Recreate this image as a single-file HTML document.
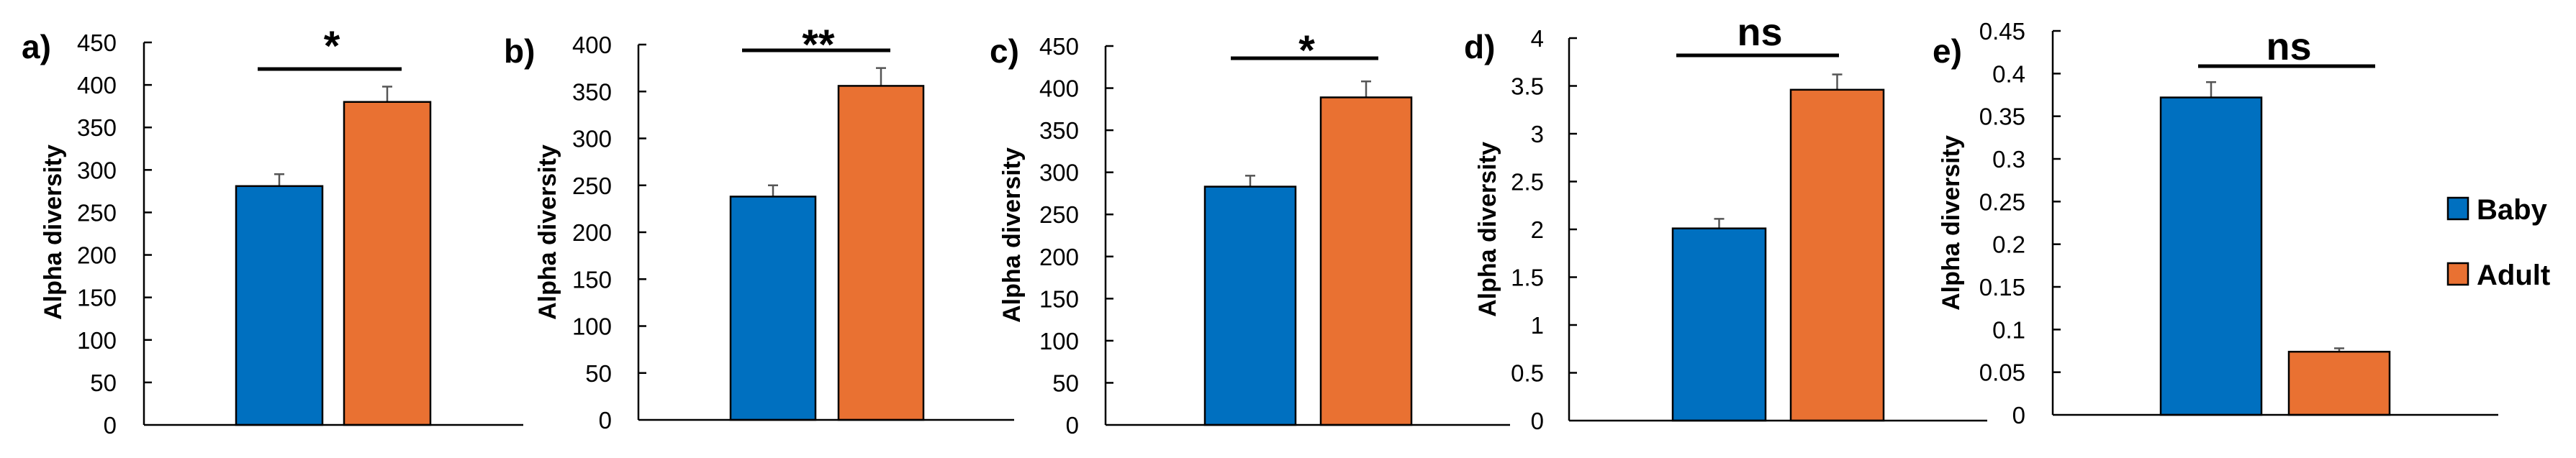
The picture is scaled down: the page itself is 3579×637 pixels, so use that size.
<!DOCTYPE html>
<html><head><meta charset="utf-8"><style>
html,body{margin:0;padding:0;background:#fff;}
svg{display:block;}
text{font-family:"Liberation Sans",sans-serif;fill:#000;}
</style></head>
<body>
<svg id="chart" width="3579" height="637" viewBox="0 0 3579 637" xmlns="http://www.w3.org/2000/svg"></svg>
<script>
// ---- data ----
const panelLetters = ["a)", "b)", "c)", "d)", "e)"];
const groups = ["Baby", "Adult"];
const babyValues = [281, 238, 283, 2.01, 0.372];
const adultValues = [380, 356, 389, 3.46, 0.074];
const babyErrors = [14, 12, 13, 0.1, 0.018];
const adultErrors = [18, 19, 19, 0.16, 0.004];
const yMaxValues = [450, 400, 450, 4, 0.45];
const yStepValues = [50, 50, 50, 0.5, 0.05];
const tickLabelsA = ["0","50","100","150","200","250","300","350","400","450"];
const tickLabelsB = ["0","50","100","150","200","250","300","350","400"];
const tickLabelsC = ["0","50","100","150","200","250","300","350","400","450"];
const tickLabelsD = ["0","0.5","1","1.5","2","2.5","3","3.5","4"];
const tickLabelsE = ["0","0.05","0.1","0.15","0.2","0.25","0.3","0.35","0.4","0.45"];
const tickLabels = [tickLabelsA, tickLabelsB, tickLabelsC, tickLabelsD, tickLabelsE];
const significance = ["*", "**", "*", "ns", "ns"];

// ---- layout (pixels) ----
const layout = [
  {ax:200, x1:727, top:59, zero:591, bw:120, b1:328, b2:478, sig:[358,558,96], sigY:54, lab:[30,65], tl:162, yt:[73,323]},
  {ax:887, x1:1409, top:62, zero:584, bw:118, b1:1015, b2:1165, sig:[1031,1237,70], sigY:52, lab:[700,71], tl:850, yt:[760,323]},
  {ax:1536, x1:2098, top:64, zero:591, bw:126, b1:1674, b2:1835, sig:[1710,1915,81], sigY:60, lab:[1375,71], tl:1499, yt:[1405,327]},
  {ax:2180, x1:2761, top:53, zero:585, bw:129, b1:2324, b2:2488, sig:[2329,2555,77], sigY:43, lab:[2034,65], tl:2145, yt:[2066,319]},
  {ax:2852, x1:3471, top:43, zero:577, bw:140, b1:3002, b2:3180, sig:[3054,3300,92], sigY:63, lab:[2685,71], tl:2814, yt:[2710,310]}
];
const colors = ["#0070c0", "#e97132"];
const NS = "http://www.w3.org/2000/svg";
const svg = document.getElementById("chart");
function mk(tag, attrs, parent){
  const e = document.createElementNS(NS, tag);
  for (const k in attrs) e.setAttribute(k, attrs[k]);
  (parent||svg).appendChild(e);
  return e;
}
layout.forEach((L, i) => {
  const g = mk("g", {});
  
  
  const yScale = v => L.zero - (v / yMaxValues[i]) * (L.zero - L.top);
  const ya = mk("line", {x1:L.ax, y1:L.top, x2:L.ax, y2:L.zero, stroke:"#000", "stroke-width":2.5}, g);
  
  
  tickLabels[i].forEach((t, k) => {
    const y = yScale(k * yStepValues[i]);
    if (k > 0) {
      const tk = mk("line", {x1:L.ax, y1:y, x2:L.ax + 11, y2:y, stroke:"#000", "stroke-width":2.5}, g);
      
      
    }
    const tx = mk("text", {x:L.tl, y:y + 12, "text-anchor":"end", "font-size":33}, g);
    tx.textContent = t;
    
    
  });
  const vals = [babyValues[i], adultValues[i]];
  const errs = [babyErrors[i], adultErrors[i]];
  const bxs = [L.b1, L.b2];
  vals.forEach((v, j) => {
    const cx = bxs[j] + L.bw / 2;
    const eb = mk("line", {x1:cx, y1:yScale(v), x2:cx, y2:yScale(v + errs[j]), stroke:"#555", "stroke-width":2.5}, g);
    
    
    const ec = mk("line", {x1:cx - 7, y1:yScale(v + errs[j]), x2:cx + 7, y2:yScale(v + errs[j]), stroke:"#555", "stroke-width":2.5}, g);
    
    
    const r = mk("rect", {x:bxs[j], y:yScale(v), width:L.bw, height:L.zero - yScale(v), fill:colors[j], stroke:"#000", "stroke-width":2.5}, g);
    
    
  });
  const xa = mk("line", {x1:L.ax, y1:L.zero, x2:L.x1, y2:L.zero, stroke:"#000", "stroke-width":2.5}, g);
  
  
  const sl = mk("line", {x1:L.sig[0], y1:L.sig[2], x2:L.sig[1], y2:L.sig[2], stroke:"#000", "stroke-width":5}, g);
  
  
  const isNs = significance[i] === "ns";
  const st = mk("text", {x:(L.sig[0] + L.sig[1]) / 2 + 3, y:L.sigY + (isNs ? 20 : 30), "text-anchor":"middle", "font-size":isNs ? 54 : 58, "font-weight":"bold", "font-family":isNs ? "Liberation Sans Narrow, Liberation Sans, sans-serif" : "Liberation Sans, sans-serif"}, g);
  st.textContent = significance[i];
  
  
  const pl = mk("text", {x:L.lab[0], y:L.lab[1] + 16, "font-size":46, "font-weight":"bold"}, g);
  pl.textContent = panelLetters[i];
  
  
  const yt = mk("text", {x:0, y:0, "text-anchor":"middle", "font-size":34, "font-weight":"bold", transform:"translate(" + (L.yt[0] + 12) + "," + L.yt[1] + ") rotate(-90)"}, g);
  yt.textContent = "Alpha diversity";
  
  
});
const legY = [290, 381];
groups.forEach((grp, j) => {
  const lg = mk("g", {});
  
  
  mk("rect", {x:3401, y:legY[j] - 15, width:28, height:30, fill:colors[j], stroke:"#000", "stroke-width":2.5}, lg);
  const t = mk("text", {x:3441, y:legY[j] + 15, "font-size":40, "font-weight":"bold"}, lg);
  t.textContent = grp;
});
</script>
</body></html>
